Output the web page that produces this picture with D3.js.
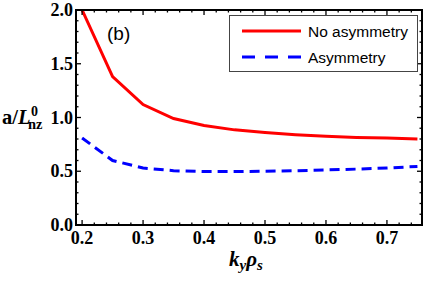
<!DOCTYPE html>
<html>
<head>
<meta charset="UTF-8" />
<script src="https://d3js.org/d3.v7.min.js"></script>
<style>
  body { margin: 0; background: #fff; }
  svg { display: block; }
  .tick-lbl { font-family: "Liberation Serif", "DejaVu Serif", serif; font-weight: bold; font-size: 18px; }
  .leg { font-family: "Liberation Sans", Arial, sans-serif; font-size: 15.5px; }
</style>
</head>
<body>
<div id="chart"></div>
<script>
  // donnees
  const ky = [0.2, 0.25, 0.3, 0.35, 0.4, 0.45, 0.5, 0.55, 0.6, 0.65, 0.7, 0.75];
  const noAsym = [2.0, 1.38, 1.12, 0.99, 0.925, 0.885, 0.86, 0.84, 0.825, 0.815, 0.81, 0.80];
  const asym = [0.81, 0.6, 0.53, 0.505, 0.497, 0.497, 0.5, 0.505, 0.512, 0.52, 0.53, 0.545];
  const xTicks = [0.2, 0.3, 0.4, 0.5, 0.6, 0.7];
  const yTicks = [0.0, 0.5, 1.0, 1.5, 2.0];
  const seriesNames = ["No asymmetry", "Asymmetry"];

  const W = 427, H = 281;
  const mLeft = 76, mRight = 422, mTop = 10, mBottom = 225;

  const svg = d3.select("#chart").append("svg")
    .attr("width", W).attr("height", H);

  const x = d3.scaleLinear().domain([0.19, 0.7575]).range([mLeft, mRight]);
  const y = d3.scaleLinear().domain([0, 2]).range([mBottom, mTop]);

  svg.append("clipPath").attr("id", "clip")
    .append("rect").attr("x", mLeft).attr("y", mTop)
    .attr("width", mRight - mLeft).attr("height", mBottom - mTop);

  // courbes
  const line = d3.line().x((d, i) => x(ky[i])).y(d => y(d));
  svg.append("path").datum(noAsym)
    .attr("d", line).attr("fill", "none")
    .attr("stroke", "#ff0000").attr("stroke-width", 3)
    .attr("clip-path", "url(#clip)");
  svg.append("path").datum(asym)
    .attr("d", line).attr("fill", "none")
    .attr("stroke", "#0000ff").attr("stroke-width", 3)
    .attr("stroke-dasharray", "10,6")
    .attr("clip-path", "url(#clip)");

  // graduations (vers l'interieur, sur les 4 cotes)
  const xMinor = d3.range(0.2, 0.7501, 0.02).map(v => +v.toFixed(2));
  const yMinor = d3.range(0, 2.0001, 0.1).map(v => +v.toFixed(1));
  const isMajX = v => xTicks.some(t => Math.abs(t - v) < 1e-6);
  const isMajY = v => yTicks.some(t => Math.abs(t - v) < 1e-6);

  const g = svg.append("g").attr("stroke", "#000").attr("stroke-width", 1.3);
  xMinor.forEach(v => {
    const len = isMajX(v) ? 5 : 2.5;
    g.append("line").attr("x1", x(v)).attr("x2", x(v)).attr("y1", mBottom).attr("y2", mBottom - len);
    g.append("line").attr("x1", x(v)).attr("x2", x(v)).attr("y1", mTop).attr("y2", mTop + len);
  });
  yMinor.forEach(v => {
    const len = isMajY(v) ? 5 : 2.5;
    g.append("line").attr("x1", mLeft).attr("x2", mLeft + len).attr("y1", y(v)).attr("y2", y(v));
    g.append("line").attr("x1", mRight).attr("x2", mRight - len).attr("y1", y(v)).attr("y2", y(v));
  });

  // cadre
  svg.append("rect").attr("x", mLeft).attr("y", mTop)
    .attr("width", mRight - mLeft).attr("height", mBottom - mTop)
    .attr("fill", "none").attr("stroke", "#000").attr("stroke-width", 2);

  // etiquettes
  svg.selectAll(".xl").data(xTicks).join("text")
    .attr("class", "tick-lbl").attr("x", d => x(d)).attr("y", 244)
    .attr("text-anchor", "middle").text(d => d.toFixed(1));
  svg.selectAll(".yl").data(yTicks).join("text")
    .attr("class", "tick-lbl").attr("x", mLeft - 3).attr("y", d => y(d) + 6)
    .attr("text-anchor", "end").text(d => d.toFixed(1));

  // titre axe x : k_y rho_s
  const xt = svg.append("text")
    .attr("x", 229).attr("y", 266)
    .style("font-family", "'Liberation Serif', serif")
    .style("font-weight", "bold").style("font-style", "italic").style("font-size", "21px");
  xt.append("tspan").text("k");
  xt.append("tspan").attr("dy", 4).style("font-size", "15px").text("y");
  xt.append("tspan").attr("dy", -4).text("ρ");
  xt.append("tspan").attr("dy", 4).style("font-size", "15px").text("s");

  // titre axe y : a/L^0_nz (exposant et indice empiles)
  const yt = svg.append("text")
    .attr("x", 2).attr("y", 124)
    .style("font-family", "'Liberation Serif', serif")
    .style("font-weight", "bold").style("font-size", "20.5px");
  yt.append("tspan").text("a/");
  yt.append("tspan").style("font-style", "italic").text("L");
  const yw = yt.node().getComputedTextLength();
  yt.append("tspan").attr("x", 2 + yw + 0.5).attr("dy", -8)
    .style("font-size", "14px").text("0");
  yt.append("tspan").attr("x", 2 + yw - 2.5).attr("dy", 13)
    .style("font-size", "14.5px").text("nz");

  // (b)
  svg.append("text").attr("x", 107).attr("y", 40)
    .style("font-family", "'Liberation Sans', Arial, sans-serif")
    .style("font-size", "19px").text("(b)");

  // legende
  svg.append("rect").attr("x", 229.5).attr("y", 15.5).attr("width", 188).attr("height", 56)
    .attr("fill", "#fff").attr("stroke", "#444").attr("stroke-width", 1);
  const legColors = ["#ff0000", "#0000ff"];
  const legDash = [null, "13,10"];
  seriesNames.forEach((name, i) => {
    const ly = 31 + i * 26;
    svg.append("line").attr("x1", 242).attr("x2", 301).attr("y1", ly).attr("y2", ly)
      .attr("stroke", legColors[i]).attr("stroke-width", 3)
      .attr("stroke-dasharray", legDash[i]);
    svg.append("text").attr("class", "leg").attr("x", 308).attr("y", ly + 5.5).text(name);
  });
</script>
</body>
</html>
